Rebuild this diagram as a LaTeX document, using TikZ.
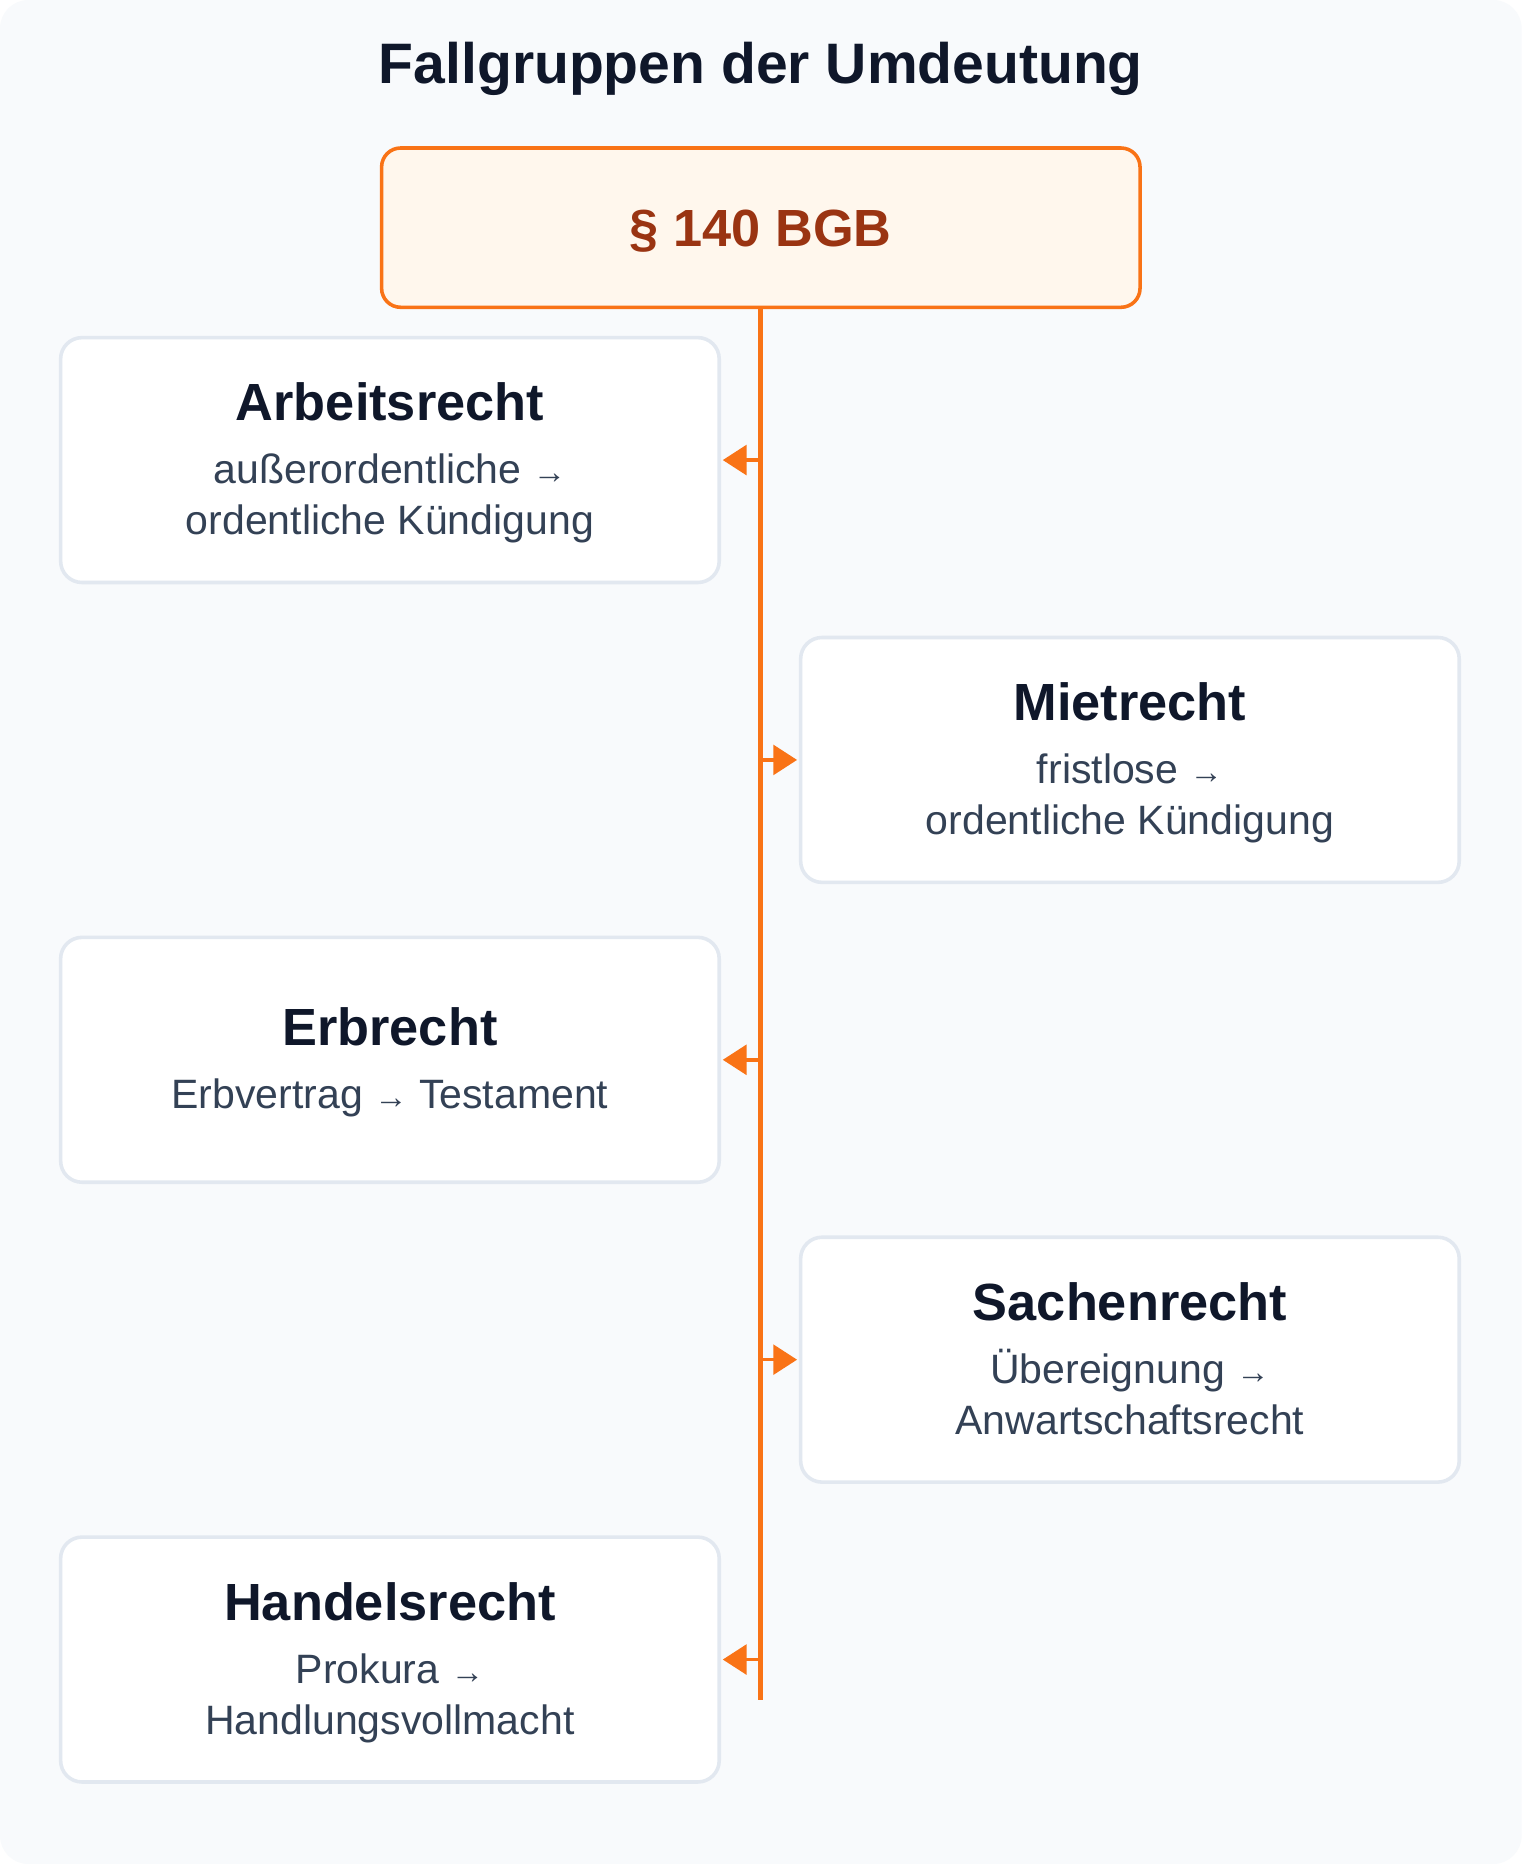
\documentclass[tikz,border=0pt]{standalone}
\usepackage{fontspec}
\setmainfont{Liberation Sans}
\usetikzlibrary{arrows.meta}
\definecolor{bgc}{HTML}{F8FAFC}
\definecolor{ink}{HTML}{0F172A}
\definecolor{subc}{HTML}{334155}
\definecolor{cardline}{HTML}{E2E8F0}
\definecolor{orangeline}{HTML}{F97316}
\definecolor{orangefill}{HTML}{FFF7ED}
\definecolor{orangetext}{HTML}{9A3412}
\newcommand{\smallarr}{{\fontsize{28}{28}\selectfont →}}
\begin{document}
\begin{tikzpicture}[x=1pt,y=-1pt,
  cardbox/.style={draw=cardline, line width=3pt, fill=white, rounded corners=18pt,
    minimum width=554pt, minimum height=206pt, inner sep=0pt},
  topbox/.style={draw=orangeline, line width=3pt, fill=orangefill, rounded corners=16pt,
    minimum width=638pt, minimum height=134pt, inner sep=0pt,
    text=orangetext, font=\fontsize{44}{50}\selectfont\bfseries, text height=32pt, text depth=0pt},
  maintitle/.style={anchor=base, text=ink, font=\fontsize{48}{56}\selectfont\bfseries, inner sep=0pt},
  cardtitle/.style={anchor=base, text=ink, font=\fontsize{44}{50}\selectfont\bfseries, inner sep=0pt},
  cardtext/.style={anchor=base, text=subc, font=\fontsize{34.5}{40}\selectfont, inner sep=0pt},
  spine/.style={draw=orangeline, line width=4pt},
  branch/.style={draw=orangeline, line width=3pt, -{Triangle[length=20pt,width=25pt]}, shorten >=1.5pt}
]
\useasboundingbox (0,0) rectangle (1280,1568);
\fill[white] (0,0) rectangle (1280,1568);
\fill[bgc, rounded corners=24pt] (0,0) rectangle (1280,1568);

\node[maintitle] (title) at (640,70) {Fallgruppen der Umdeutung};

\node[topbox] (bgb) at (640,191.5) {§ 140 BGB};

% cards
\node[cardbox] (c1) at (328,387) {};
\node[cardbox] (c2) at (950.5,639.25) {};
\node[cardbox] (c3) at (328,891.5) {};
\node[cardbox] (c4) at (950.5,1143.75) {};
\node[cardbox] (c5) at (328,1396) {};

% spine and branches
\coordinate (spineend) at (640,1430);
\draw[spine] (bgb.south) -- (spineend);
\coordinate (s1) at (640,387);
\coordinate (s2) at (640,639.25);
\coordinate (s3) at (640,891.5);
\coordinate (s4) at (640,1143.75);
\coordinate (s5) at (640,1396);
\draw[branch] (s1) -- (c1.east);
\draw[branch] (s2) -- (c2.west);
\draw[branch] (s3) -- (c3.east);
\draw[branch] (s4) -- (c4.west);
\draw[branch] (s5) -- (c5.east);

% card texts
\node[cardtitle] (t1) at (328,354) {Arbeitsrecht};
\node[cardtext] (t1a) at (328,407) {außerordentliche \smallarr};
\node[cardtext] (t1b) at (328,450) {ordentliche Kündigung};

\node[cardtitle] (t2) at (950.5,606.25) {Mietrecht};
\node[cardtext] (t2a) at (950.5,659.25) {fristlose \smallarr};
\node[cardtext] (t2b) at (950.5,702.25) {ordentliche Kündigung};

\node[cardtitle] (t3) at (328,879.5) {Erbrecht};
\node[cardtext] (t3a) at (328,932.5) {Erbvertrag \smallarr\ Testament};

\node[cardtitle] (t4) at (950.5,1110.75) {Sachenrecht};
\node[cardtext] (t4a) at (950.5,1163.75) {Übereignung \smallarr};
\node[cardtext] (t4b) at (950.5,1206.75) {Anwartschaftsrecht};

\node[cardtitle] (t5) at (328,1363) {Handelsrecht};
\node[cardtext] (t5a) at (328,1416) {Prokura \smallarr};
\node[cardtext] (t5b) at (328,1459) {Handlungsvollmacht};
\end{tikzpicture}
\end{document}
